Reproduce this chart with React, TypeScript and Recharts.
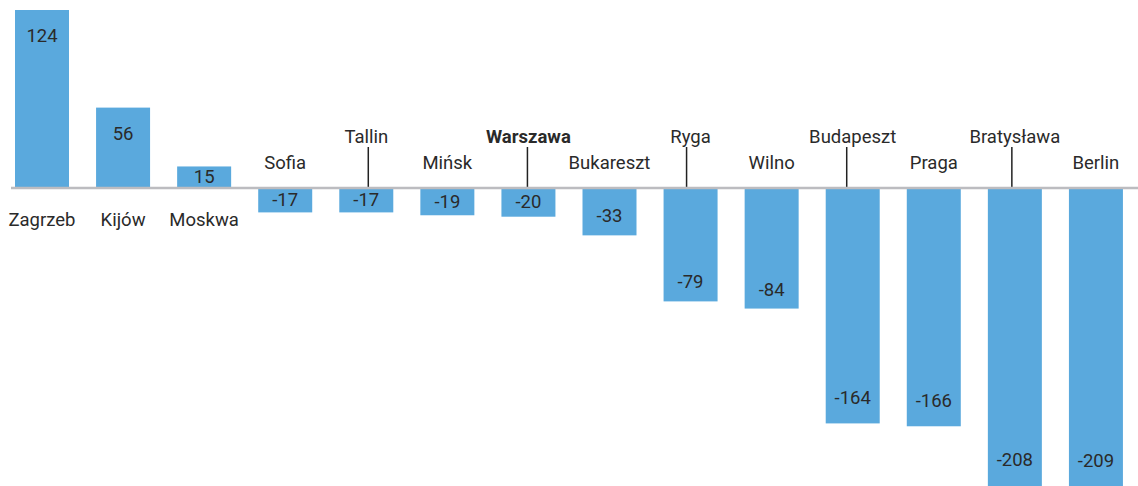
import React from 'react';
import { BarChart, Bar, XAxis, YAxis, ReferenceLine } from 'recharts';

const categories = ['Zagrzeb', 'Kijów', 'Moskwa', 'Sofia', 'Tallin', 'Mińsk', 'Warszawa', 'Bukareszt', 'Ryga', 'Wilno', 'Budapeszt', 'Praga', 'Bratysława', 'Berlin'];
const values = [124, 56, 15, -17, -17, -19, -20, -33, -79, -84, -164, -166, -208, -209];
const labelLevels = ['below', 'below', 'below', 'above', 'high', 'above', 'high', 'above', 'high', 'above', 'high', 'above', 'high', 'above'];
const highlighted = ['Warszawa'];

const data = categories.map((name, i) => ({ name, value: values[i], level: labelLevels[i], idx: i }));

// small horizontal nudges of the leader lines (style only)
const leaderNudge: Record<string, number> = { Tallin: 2, Warszawa: -1, Ryga: -4, Budapeszt: -6, 'Bratysława': -3 };

const FONT = 'Roboto, "Noto Sans", sans-serif';
const BAR_COLOR = '#5aa9dd';
const TEXT_COLOR = '#2a2a2a';

const BarShape = (props: any) => {
  const { x, y, width, height, payload } = props;
  const v = payload.value as number;
  const h = Math.abs(height);
  const top = Math.min(y, y + height);
  const base = v >= 0 ? top + h : top;
  const cx = x + width / 2;
  let valueY: number;
  if (v >= 0) {
    valueY = top + Math.min(h / 2, 26);
  } else {
    const off = h < 150 ? Math.min(h / 2, 19) : (h > 250 ? 27 : 25);
    valueY = top + h - off;
  }
  const level = payload.level;
  let nameY = base + 32;
  if (level === 'above') nameY = base - 25;
  if (level === 'high') nameY = base - 51;
  const bold = highlighted.includes(payload.name);
  const lx = cx + (leaderNudge[payload.name] ?? 0);
  return (
    <g>
      <rect x={x} y={top} width={width} height={h} fill={BAR_COLOR} />
      <text x={cx} y={valueY} textAnchor="middle" dominantBaseline="central" fontFamily={FONT} fontSize={18.5} fill={TEXT_COLOR}>
        {v}
      </text>
      {level === 'high' && (
        <line x1={lx} x2={lx} y1={base - 41} y2={base - 1} stroke="#222" strokeWidth={1.5} />
      )}
      <text x={cx} y={nameY} textAnchor="middle" dominantBaseline="central" fontFamily={FONT} fontSize={18.5} fontWeight={bold ? 700 : 400} fill={TEXT_COLOR}>
        {payload.name}
      </text>
    </g>
  );
};

const BaseLine = (props: any) => {
  const { x1, x2, y1 } = props;
  if (x1 == null || y1 == null) return null;
  return <line x1={x1 + 10} x2={x2 + 2} y1={y1} y2={y1} stroke="#bcbcc0" strokeWidth={2.5} />;
};

export default function App() {
  return (
    <div style={{ position: 'absolute', left: 0, top: 0, width: 1138, height: 486, overflow: 'hidden', background: '#fff' }}>
      <BarChart width={1138} height={488} data={data} margin={{ top: 10, right: 2, bottom: 0, left: 1 }}>
        <XAxis dataKey="name" hide />
        <YAxis hide domain={[-209, 124]} />
        <Bar dataKey="value" barSize={54} isAnimationActive={false} shape={<BarShape />} />
        <ReferenceLine y={0} stroke="#bcbcc0" strokeWidth={2.5} shape={(p: any) => <BaseLine {...p} />} />
      </BarChart>
    </div>
  );
}
